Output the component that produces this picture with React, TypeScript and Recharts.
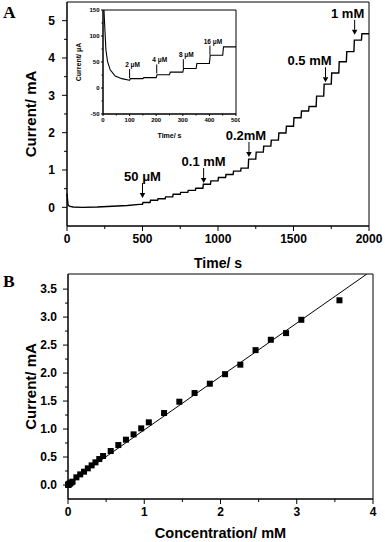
import React from 'react';
import { ComposedChart, Line, Scatter, XAxis, YAxis, ReferenceArea } from 'recharts';

// ---- panel A : amperometric trace (time in s, current in mA) ----
const startTimes = [0, 3, 7, 15, 40, 100, 200, 300, 400, 480];
const startCurrents = [0.37, 0.22, 0.07, 0.03, 0.01, 0.0, 0.01, 0.03, 0.05, 0.08];
const stepTimes = [
  500, 550, 600, 650, 700, 750, 800, 850, 900, 950, 1000, 1050, 1100, 1150, 1200,
  1250, 1300, 1350, 1400, 1450, 1500, 1550, 1600, 1650, 1700, 1750, 1800, 1850, 1900, 1950,
];
const stepCurrents = [
  0.13, 0.19, 0.23, 0.28, 0.35, 0.4, 0.455, 0.51, 0.62, 0.71, 0.8, 0.88, 0.97, 1.05, 1.29,
  1.48, 1.64, 1.8, 1.99, 2.17, 2.4, 2.58, 2.7, 2.98, 3.3, 3.6, 3.9, 4.17, 4.48, 4.65,
];
const annTimes = [500, 905, 1205, 1712, 1905];
const annCurrents = [0.25, 0.65, 1.35, 3.35, 4.62];
const annLabels = ['50 μM', '0.1 mM', '0.2mM', '0.5 mM', '1 mM'];

// ---- inset : first 500 s (current in µA) ----
const insetStartTimes = [2, 5, 7.5, 11, 17, 27, 46, 71, 99];
const insetStartCurrents = [170, 135, 108, 73, 51, 35, 23, 18, 15];
const insetStepTimes = [100, 150, 200, 250, 300, 350, 400, 450];
const insetStepCurrents = [18, 20, 25.5, 30.5, 37.5, 47, 63, 79];
const insetAnnTimes = [100, 202, 302, 402];
const insetAnnCurrents = [19, 28, 38, 64];
const insetAnnLabels = ['2 μM', '4 μM', '8 μM', '16 μM'];

// ---- panel B : calibration (concentration in mM, current in mA) ----
const concs = [
  0.002, 0.004, 0.008, 0.012, 0.02, 0.028, 0.044, 0.06, 0.11, 0.16, 0.21, 0.26, 0.31, 0.36,
  0.41, 0.46, 0.56, 0.66, 0.76, 0.86, 0.96, 1.06, 1.26, 1.46, 1.66, 1.86, 2.06, 2.26, 2.46,
  2.66, 2.86, 3.06, 3.56,
];
const currents = [
  0.003, 0.005, 0.01, 0.016, 0.024, 0.03, 0.045, 0.06, 0.137, 0.19, 0.238, 0.298, 0.351,
  0.405, 0.464, 0.518, 0.607, 0.714, 0.81, 0.905, 1.012, 1.12, 1.286, 1.488, 1.643, 1.81,
  1.98, 2.15, 2.41, 2.595, 2.714, 2.952, 3.3,
];
const fitConcs = [0, 3.92];
const fitCurrents = [0.03, 3.77];

// label offsets for the arrows (pixels)
const annDx = [0, 0, -3, -16, -7];
const insetAnnDx = [3, 3, 3, 3];

function buildTrace(t0: number[], v0: number[], ts: number[], vs: number[], end: number) {
  const out = t0.map((t, i) => ({ t, v: v0[i] }));
  let prev = v0[v0.length - 1];
  ts.forEach((t, i) => {
    out.push({ t, v: prev });
    out.push({ t: t + 3, v: vs[i] });
    prev = vs[i];
  });
  out.push({ t: end, v: prev });
  return out;
}

const traceA = buildTrace(startTimes, startCurrents, stepTimes, stepCurrents, 2000);
const traceInset = buildTrace(insetStartTimes, insetStartCurrents, insetStepTimes, insetStepCurrents, 500);
const annA = annTimes.map((t, k) => ({ t, v: annCurrents[k], label: annLabels[k], k }));
const annInset = insetAnnTimes.map((t, k) => ({ t, v: insetAnnCurrents[k], label: insetAnnLabels[k], k }));
const pointsB = concs.map((c, k) => ({ c, i: currents[k] }));
const fitB = fitConcs.map((c, k) => ({ c, i: fitCurrents[k] }));

const FONT = 'Arial, "Liberation Sans", sans-serif';

type TickOpts = {
  majors: number[];
  len: number;
  minorLen: number;
  gap: number;
  fontSize: number;
  fmt: (v: number) => string;
};

const isMajor = (majors: number[], v: number) => majors.some(m => Math.abs(m - v) < 1e-6);

function bottomTick(o: TickOpts) {
  return (p: any) => {
    const v = p.payload.value;
    const major = isMajor(o.majors, v);
    return (
      <g>
        <line x1={p.x} x2={p.x} y1={p.y} y2={p.y + (major ? o.len : o.minorLen)} stroke="#000" />
        {major && (
          <text x={p.x} y={p.y + o.len + o.gap} dy="0.71em" textAnchor="middle"
            fontSize={o.fontSize} fontWeight="bold" fontFamily={FONT} fill="#000">
            {o.fmt(v)}
          </text>
        )}
      </g>
    );
  };
}

function leftTick(o: TickOpts) {
  return (p: any) => {
    const v = p.payload.value;
    const major = isMajor(o.majors, v);
    return (
      <g>
        <line x1={p.x - (major ? o.len : o.minorLen)} x2={p.x} y1={p.y} y2={p.y} stroke="#000" />
        {major && (
          <text x={p.x - o.len - o.gap} y={p.y} dy="0.36em" textAnchor="end"
            fontSize={o.fontSize} fontWeight="bold" fontFamily={FONT} fill="#000">
            {o.fmt(v)}
          </text>
        )}
      </g>
    );
  };
}

function arrowShape(len: number, head: number, fontSize: number, dxs: number[]) {
  return (p: any) => {
    const { cx, cy, payload } = p;
    const top = cy - len;
    return (
      <g>
        <line x1={cx} x2={cx} y1={top} y2={cy - head} stroke="#000" strokeWidth={1} />
        {head > 0 && (
          <path d={`M${cx - head * 0.55},${cy - head} L${cx + head * 0.55},${cy - head} L${cx},${cy} Z`} fill="#000" />
        )}
        <text x={cx + dxs[payload.k]} y={top - 2} textAnchor="middle" fontSize={fontSize}
          fontWeight="bold" fontFamily={FONT} fill="#000">
          {payload.label}
        </text>
      </g>
    );
  };
}

const squareShape = (p: any) => <rect x={p.cx - 3} y={p.cy - 3} width={6} height={6} fill="#000" />;

const fmtInt = (v: number) => String(v);
const fmt1 = (v: number) => v.toFixed(1);

export default function App() {
  const titleStyle = { fontSize: 14, fontWeight: 'bold', fill: '#000', fontFamily: FONT };
  return (
    <div style={{ position: 'absolute', left: 0, top: 0, width: 385, height: 542, background: '#fff', fontFamily: FONT }}>
      {/* panel A */}
      <div style={{ position: 'absolute', left: 0, top: 0 }}>
        <ComposedChart width={385} height={270} data={traceA} margin={{ top: 2, right: 16, bottom: 0, left: 0 }}>
          <XAxis dataKey="t" type="number" domain={[0, 2000]} ticks={[0, 250, 500, 750, 1000, 1250, 1500, 1750, 2000]}
            interval={0} height={44} tickSize={0} tickMargin={0} tickLine={false} axisLine={{ stroke: '#000' }}
            tick={bottomTick({ majors: [0, 500, 1000, 1500, 2000], len: 5, minorLen: 3, gap: 3, fontSize: 12, fmt: fmtInt })}
            label={{ value: 'Time/ s', position: 'insideBottom', offset: 2, style: titleStyle }} />
          <YAxis type="number" domain={[-0.5, 5.5]} allowDataOverflow
            ticks={[0, 0.5, 1, 1.5, 2, 2.5, 3, 3.5, 4, 4.5, 5]} interval={0} width={67}
            tickSize={0} tickMargin={0} tickLine={false} axisLine={{ stroke: '#000' }}
            tick={leftTick({ majors: [0, 1, 2, 3, 4, 5], len: 5, minorLen: 3, gap: 7, fontSize: 12, fmt: fmtInt })}
            label={{ value: 'Current/ mA', angle: -90, position: 'insideLeft', offset: 31, style: { ...titleStyle, fontSize: 15, textAnchor: 'middle' } }} />
          <ReferenceArea x1={0} x2={2000} y1={-0.5} y2={5.5} fill="none" stroke="#000" strokeWidth={1} />
          <Line dataKey="v" type="linear" stroke="#000" strokeWidth={1.4} dot={false} isAnimationActive={false} />
          <Scatter data={annA} dataKey="v" shape={arrowShape(15, 5, 13, annDx)} isAnimationActive={false} />
        </ComposedChart>
      </div>

      {/* inset */}
      <div style={{ position: 'absolute', left: 70, top: 2 }}>
        <ComposedChart width={170} height={140} data={traceInset} margin={{ top: 8, right: 4, bottom: 0, left: 0 }}>
          <XAxis dataKey="t" type="number" domain={[0, 500]} allowDataOverflow
            ticks={[0, 50, 100, 150, 200, 250, 300, 350, 400, 450, 500]} interval={0} height={28}
            tickSize={0} tickMargin={0} tickLine={false} axisLine={{ stroke: '#000' }}
            tick={bottomTick({ majors: [0, 100, 200, 300, 400, 500], len: 2, minorLen: 1.5, gap: 1.5, fontSize: 6, fmt: fmtInt })}
            label={{ value: 'Time/ s', position: 'insideBottom', offset: 4, style: { ...titleStyle, fontSize: 7 } }} />
          <YAxis type="number" domain={[-50, 150]} allowDataOverflow
            ticks={[-50, -25, 0, 25, 50, 75, 100, 125, 150]} interval={0} width={33}
            tickSize={0} tickMargin={0} tickLine={false} axisLine={{ stroke: '#000' }}
            tick={leftTick({ majors: [-50, 0, 50, 100, 150], len: 2, minorLen: 1.5, gap: 1.5, fontSize: 6, fmt: fmtInt })}
            label={{ value: 'Current/ μA', angle: -90, position: 'insideLeft', offset: 9, style: { ...titleStyle, fontSize: 7, textAnchor: 'middle' } }} />
          <ReferenceArea x1={0} x2={500} y1={-50} y2={150} fill="none" stroke="#000" strokeWidth={1} />
          <Line dataKey="v" type="linear" stroke="#000" strokeWidth={1.1} dot={false} isAnimationActive={false} />
          <Scatter data={annInset} dataKey="v" shape={arrowShape(9, 0, 6.5, insetAnnDx)} isAnimationActive={false} />
        </ComposedChart>
      </div>

      {/* panel B */}
      <div style={{ position: 'absolute', left: 0, top: 270 }}>
        <ComposedChart width={385} height={272} margin={{ top: 4, right: 12, bottom: 0, left: 0 }}>
          <XAxis dataKey="c" type="number" domain={[0, 4]} ticks={[0, 0.5, 1, 1.5, 2, 2.5, 3, 3.5, 4]}
            interval={0} height={43} tickSize={0} tickMargin={0} tickLine={false} axisLine={{ stroke: '#000' }}
            tick={bottomTick({ majors: [0, 1, 2, 3, 4], len: 5, minorLen: 3, gap: 3, fontSize: 12, fmt: fmtInt })}
            label={{ value: 'Concentration/ mM', position: 'insideBottom', offset: 4, style: { ...titleStyle, fontSize: 14.5 } }} />
          <YAxis type="number" domain={[-0.25, 3.77]} allowDataOverflow
            ticks={[0, 0.25, 0.5, 0.75, 1, 1.25, 1.5, 1.75, 2, 2.25, 2.5, 2.75, 3, 3.25, 3.5]} interval={0} width={68}
            tickSize={0} tickMargin={0} tickLine={false} axisLine={{ stroke: '#000' }}
            tick={leftTick({ majors: [0, 0.5, 1, 1.5, 2, 2.5, 3, 3.5], len: 5, minorLen: 3, gap: 6, fontSize: 12, fmt: fmt1 })}
            label={{ value: 'Current/ mA', angle: -90, position: 'insideLeft', offset: 31, style: { ...titleStyle, fontSize: 15, textAnchor: 'middle' } }} />
          <ReferenceArea x1={0} x2={4} y1={-0.25} y2={3.77} fill="none" stroke="#000" strokeWidth={1} />
          <Line data={fitB} dataKey="i" type="linear" stroke="#000" strokeWidth={1} dot={false} isAnimationActive={false} />
          <Scatter data={pointsB} dataKey="i" shape={squareShape} isAnimationActive={false} />
        </ComposedChart>
      </div>

      {/* panel letters */}
      <svg width={385} height={542} style={{ position: 'absolute', left: 0, top: 0, pointerEvents: 'none' }}>
        <text x={3} y={18} fontSize={17.5} fontWeight="bold" fontFamily='"Liberation Serif", "Times New Roman", serif'>A</text>
        <text x={3} y={287} fontSize={17.5} fontWeight="bold" fontFamily='"Liberation Serif", "Times New Roman", serif'>B</text>
      </svg>
    </div>
  );
}
